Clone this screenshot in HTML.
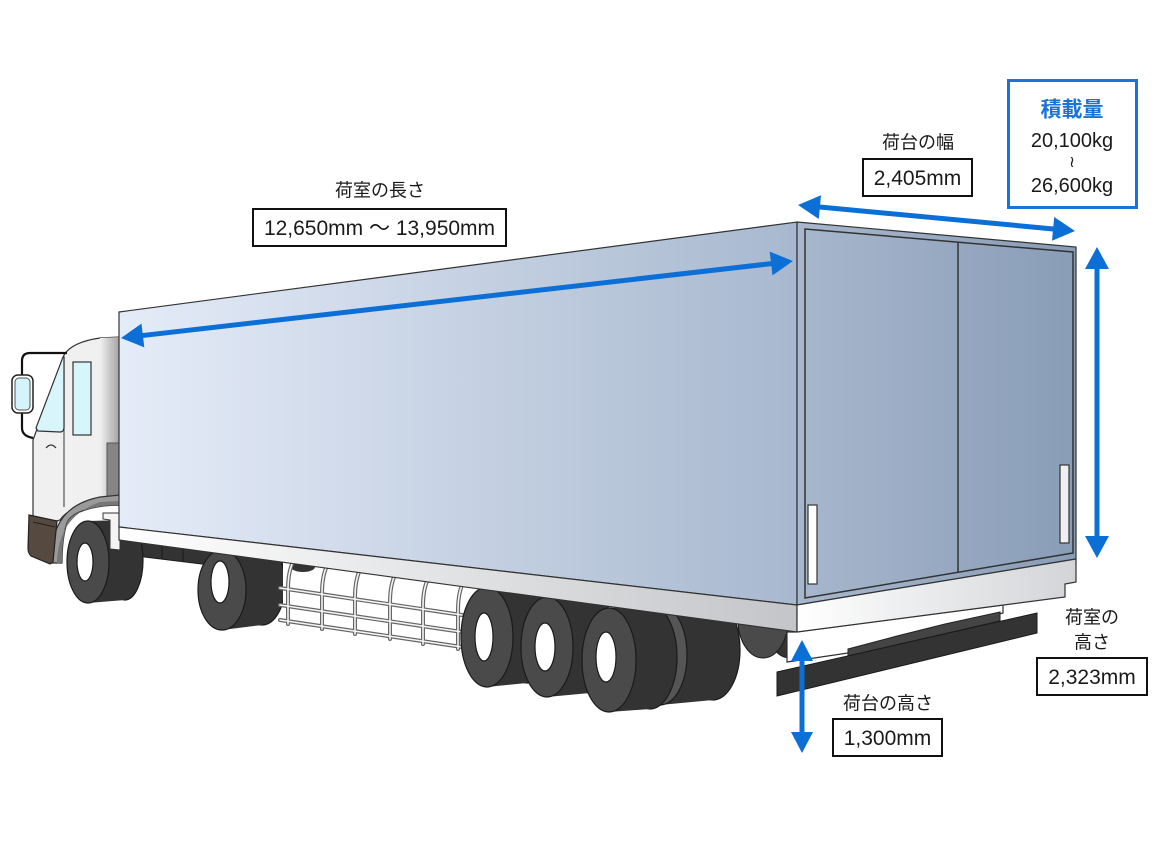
<!DOCTYPE html>
<html><head><meta charset="utf-8"><style>
html,body{margin:0;padding:0;background:#fff;}
svg{display:block;}
text{font-family:"Liberation Sans","Noto Sans CJK JP",sans-serif;fill:#1a1a1a;}
</style></head><body>
<svg width="1160" height="860" viewBox="0 0 1160 860" xmlns="http://www.w3.org/2000/svg">
<defs>
<linearGradient id="side" gradientUnits="userSpaceOnUse" x1="119" y1="0" x2="797" y2="0"><stop offset="0" stop-color="#e5ecf8"/><stop offset="1" stop-color="#a8b8cf"/></linearGradient>
<linearGradient id="rear" gradientUnits="userSpaceOnUse" x1="797" y1="0" x2="1076" y2="0"><stop offset="0" stop-color="#a7b7cd"/><stop offset="1" stop-color="#899db7"/></linearGradient>
<linearGradient id="rail" gradientUnits="userSpaceOnUse" x1="119" y1="0" x2="797" y2="0"><stop offset="0" stop-color="#ffffff"/><stop offset="1" stop-color="#c3c5c8"/></linearGradient>
<linearGradient id="bump" gradientUnits="userSpaceOnUse" x1="797" y1="0" x2="1076" y2="0"><stop offset="0" stop-color="#ffffff"/><stop offset="1" stop-color="#d2d4d7"/></linearGradient>
<linearGradient id="cabback" gradientUnits="userSpaceOnUse" x1="100" y1="0" x2="120" y2="0"><stop offset="0" stop-color="#f0f0f0"/><stop offset="1" stop-color="#a0a0a0"/></linearGradient>
</defs>
<rect width="1160" height="860" fill="#fff"/>

<!-- chassis dark strip front -->
<polygon points="120,539 300,561 300,576 120,554" fill="#333" stroke="#1a1a1a" stroke-width="1"/>
<g stroke="#1a1a1a" stroke-width="1"><line x1="140" y1="541" x2="140" y2="556"/><line x1="162" y1="544" x2="162" y2="559"/><line x1="183" y1="546" x2="183" y2="561"/></g>

<!-- hidden wheel near rear -->
<ellipse cx="790" cy="620" rx="25" ry="38" fill="#333" stroke="#1a1a1a"/>
<ellipse cx="763" cy="620" rx="25" ry="38" fill="#4a4a4a" stroke="#1a1a1a"/>

<!-- wheel 2 -->
<g stroke="#1a1a1a" stroke-width="1.2">
<ellipse cx="262" cy="585" rx="23" ry="40" fill="#333"/>
<polygon points="222,550 262,545 262,625 222,630" fill="#333" stroke="none"/>
<ellipse cx="222" cy="590" rx="24" ry="40" fill="#4a4a4a"/>
<ellipse cx="220" cy="582" rx="9" ry="21" fill="#fff"/>
</g>

<!-- tank / rack -->
<polygon points="283,560 462,583 462,650 283,625" fill="#fff"/>
<ellipse cx="303" cy="567" rx="12" ry="5" fill="#333"/>
<g fill="none" stroke-linecap="round">
<g stroke="#666" stroke-width="4">
<path d="M293,562 Q288,572 288,590 L288,624"/>
<path d="M327,566 Q322,576 322,594 L322,629"/>
<path d="M360,570 Q355,580 355,598 L355,634"/>
<path d="M395,575 Q390,585 390,603 L390,639"/>
<path d="M428,579 Q423,589 423,607 L423,644"/>
<path d="M463,583 Q458,593 458,611 L458,649"/>
<line x1="280" y1="588" x2="462" y2="615"/>
<line x1="280" y1="605" x2="462" y2="632"/>
<line x1="280" y1="620" x2="462" y2="647"/>
</g>
<g stroke="#f4f4f4" stroke-width="1.6">
<path d="M293,562 Q288,572 288,590 L288,624"/>
<path d="M327,566 Q322,576 322,594 L322,629"/>
<path d="M360,570 Q355,580 355,598 L355,634"/>
<path d="M395,575 Q390,585 390,603 L390,639"/>
<path d="M428,579 Q423,589 423,607 L423,644"/>
<path d="M463,583 Q458,593 458,611 L458,649"/>
<line x1="280" y1="588" x2="462" y2="615"/>
<line x1="280" y1="605" x2="462" y2="632"/>
<line x1="280" y1="620" x2="462" y2="647"/>
</g>
</g>

<!-- rear wheels -->
<g stroke="#1a1a1a" stroke-width="1.2">
<ellipse cx="527" cy="633" rx="26" ry="50" fill="#333"/>
<polygon points="487,587 527,583 527,683 487,687" fill="#333" stroke="none"/>
<ellipse cx="487" cy="637" rx="26" ry="50" fill="#4a4a4a"/>
<ellipse cx="484" cy="637" rx="9" ry="24" fill="#fff"/>
<ellipse cx="590" cy="643" rx="26" ry="50" fill="#333"/>
<polygon points="547,597 590,593 590,693 547,697" fill="#333" stroke="none"/>
<ellipse cx="547" cy="647" rx="26" ry="50" fill="#4a4a4a"/>
<ellipse cx="545" cy="647" rx="10" ry="24" fill="#fff"/>
<ellipse cx="713" cy="650" rx="27" ry="50" fill="#333"/>
<polygon points="660,605 713,600 713,700 660,705" fill="#333" stroke="none"/>
<ellipse cx="660" cy="655" rx="27" ry="50" fill="#555"/>
<ellipse cx="650" cy="657" rx="27" ry="52" fill="#333"/>
<polygon points="609,608 650,605 650,709 609,712" fill="#333" stroke="none"/>
<ellipse cx="609" cy="660" rx="27" ry="52" fill="#4a4a4a"/>
<ellipse cx="606" cy="657" rx="10" ry="25" fill="#fff"/>
</g>

<!-- front wheel -->
<g stroke="#1a1a1a" stroke-width="1.2">
<ellipse cx="125" cy="560" rx="18" ry="40" fill="#333"/>
<polygon points="88,521 125,520 125,600 88,603" fill="#333" stroke="none"/>
<ellipse cx="88" cy="562" rx="21" ry="41" fill="#4a4a4a"/>
<ellipse cx="85" cy="562" rx="8" ry="19" fill="#fff"/>
</g>

<!-- cab -->
<g stroke="#333" stroke-width="1.2">
<path d="M33,517 L33,440 L64,355 Q72,342 100,338 L120,337 L120,505 L100,505 Q70,505 60,520 L57,521 Z" fill="#f0f0f0"/>
<path d="M100,338 L120,337 L120,505 L100,505 Z" fill="url(#cabback)" stroke="none"/>
<path d="M107,443 L120,443 L120,503 L107,503 Z" fill="#858585" stroke="#555" stroke-width="1"/>
<path d="M50,563 C52,530 60,505 100,497 L120,495 L120,505 C100,505 72,510 67,523 C63,535 62,550 62,563 Z" fill="#9a9a9a"/>
<path d="M57,563 C58,536 67,514 100,502 L120,501 L120,505 C100,505 72,510 67,523 C63,535 62,550 62,563 Z" fill="#777" stroke="none"/>
<path d="M29,515 L57,521 Q55,540 53,562 L50,564 L31,556 Q28,553 28,548 Z" fill="#564940" stroke="#222"/>
<line x1="33" y1="522" x2="55" y2="527" stroke="#222" stroke-width="1"/>
<line x1="64" y1="357" x2="64" y2="507" stroke="#555"/>
<path d="M36,428 L63,357 L64,357 L64,427 Q64,432 60,432 L38,431 Z" fill="#d8f5fc"/>
<rect x="73" y="362" width="18" height="73" fill="#d8f5fc"/>
<path d="M46,448 Q51,442 56,448" fill="none"/>
<path d="M67,353 L30,353 Q22,353 22,361 L22,428 Q22,436 33,438" fill="none" stroke="#111" stroke-width="2.2"/>
<rect x="12" y="375" width="21" height="38" rx="6" fill="#fff" stroke="#222" stroke-width="1.5"/>
<rect x="15" y="378" width="15" height="32" rx="4" fill="#d4f4fb" stroke="#555" stroke-width="1"/>
<path d="M103,513 L120,513 L120,550 L110,549 L110,520 L103,519 Z" fill="#f4f4f4" stroke-width="1"/>
</g>

<!-- box side panel -->
<polygon points="119,312 797,222 797,605 119,527" fill="url(#side)" stroke="#333" stroke-width="1.2"/>
<polygon points="119,527 797,605 797,632 119,540" fill="url(#rail)" stroke="#333" stroke-width="1.2"/>

<!-- rear face -->
<polygon points="797,222 1076,247 1076,559 797,605" fill="url(#rear)" stroke="#333" stroke-width="1.2"/>
<polygon points="805,229 1073,252 1073,553 805,598" fill="none" stroke="#333" stroke-width="1.5"/>
<line x1="958" y1="242" x2="958" y2="572" stroke="#333" stroke-width="1.5"/>
<rect x="808" y="505" width="9" height="79" fill="#fff" stroke="#333" stroke-width="1.2"/>
<rect x="1060" y="465" width="9" height="78" fill="#f0f0f0" stroke="#333" stroke-width="1.2"/>

<!-- rear bumper & underside -->
<polygon points="787,632 797,632 1003,605 1003,613 848,653 787,662" fill="#fff" stroke="#333" stroke-width="1.2"/>
<polygon points="848,649 897,636 945,624 1000,612 1000,621 848,656" fill="#444" stroke="#222" stroke-width="1"/>
<polygon points="797,605 1076,559 1076,582 1065,584 1065,597 797,632" fill="url(#bump)" stroke="#333" stroke-width="1.2"/>
<polygon points="777,672 1037,613 1037,633 777,696" fill="#333" stroke="#1a1a1a" stroke-width="1"/>

<!-- arrows -->
<g fill="#0b6fd6" stroke="none">
<line x1="140" y1="335.8" x2="774" y2="263.3" stroke="#0b6fd6" stroke-width="5"/>
<polygon points="121,338 144.3,347.4 141.5,323.6"/>
<polygon points="793,261 772.5,275.4 769.7,251.6"/>
<line x1="817" y1="206.8" x2="1056" y2="229.2" stroke="#0b6fd6" stroke-width="5"/>
<polygon points="798,205 818.8,219 821,195.2"/>
<polygon points="1075,231 1052,240.8 1054.2,217"/>
<line x1="1097" y1="265" x2="1097" y2="540" stroke="#0b6fd6" stroke-width="5"/>
<polygon points="1097,247 1085,269 1109,269"/>
<polygon points="1097,558 1085,536 1109,536"/>
<line x1="802" y1="656" x2="802" y2="737" stroke="#0b6fd6" stroke-width="5"/>
<polygon points="802,640 791,661 813,661"/>
<polygon points="802,753 791,732 813,732"/>
</g>

<!-- labels -->
<text x="380" y="196.5" font-size="18" text-anchor="middle">荷室の長さ</text>
<rect x="253" y="209" width="253" height="37" fill="#fff" stroke="#111" stroke-width="2"/>
<text x="379.5" y="235" font-size="21" text-anchor="middle">12,650mm ～ 13,950mm</text>

<text x="918" y="148.5" font-size="18" text-anchor="middle">荷台の幅</text>
<rect x="863" y="159" width="109" height="37" fill="#fff" stroke="#111" stroke-width="2"/>
<text x="917.5" y="185" font-size="21" text-anchor="middle">2,405mm</text>

<rect x="1008.5" y="80.5" width="128" height="127" fill="#fff" stroke="#1a74d8" stroke-width="3"/>
<text x="1072" y="116.5" font-size="21" font-weight="bold" text-anchor="middle" style="fill:#1a74d8">積載量</text>
<text x="1072" y="147" font-size="20" text-anchor="middle">20,100kg</text>
<text x="1072" y="167" font-size="16" text-anchor="middle">≀</text>
<text x="1072" y="192" font-size="20" text-anchor="middle">26,600kg</text>

<text x="1092" y="623.5" font-size="18" text-anchor="middle">荷室の</text>
<text x="1092" y="648.5" font-size="18" text-anchor="middle">高さ</text>
<rect x="1037" y="658" width="110" height="37" fill="#fff" stroke="#111" stroke-width="2"/>
<text x="1092" y="684" font-size="21" text-anchor="middle">2,323mm</text>

<text x="888" y="709.5" font-size="18" text-anchor="middle">荷台の高さ</text>
<rect x="833" y="719" width="109" height="37" fill="#fff" stroke="#111" stroke-width="2"/>
<text x="887.5" y="745" font-size="21" text-anchor="middle">1,300mm</text>
</svg>
</body></html>
